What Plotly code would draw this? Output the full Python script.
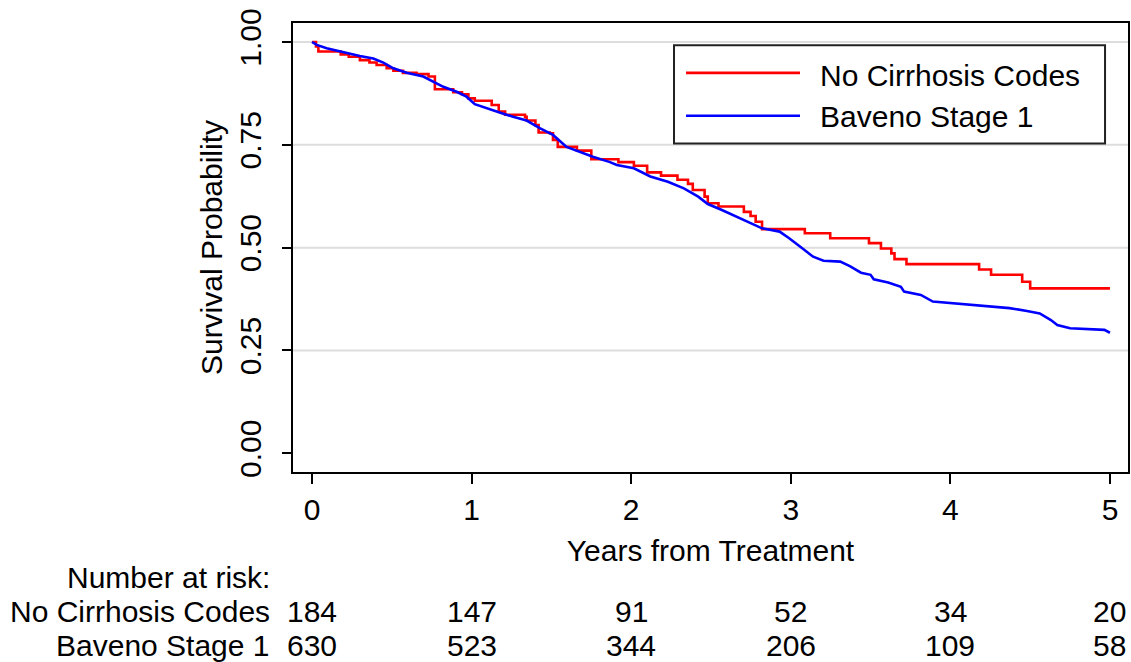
import plotly.graph_objects as go

# ---- data ----
red_name = "No Cirrhosis Codes"
blue_name = "Baveno Stage 1"

red_t = [0, 0.025, 0.04, 0.18, 0.23, 0.30, 0.36, 0.405, 0.468, 0.51, 0.57, 0.655, 0.73, 0.77, 0.885,
         0.94, 0.98, 1.02, 1.126, 1.17, 1.21, 1.335, 1.345, 1.40, 1.42, 1.49, 1.51, 1.54, 1.66, 1.75,
         1.92, 2.017, 2.10, 2.187, 2.29, 2.356, 2.386, 2.46, 2.48, 2.547, 2.706, 2.748, 2.78, 2.82, 3.088,
         3.247, 3.49, 3.565, 3.63, 3.65, 3.725, 4.18, 4.255, 4.45, 4.50, 5.0]
red_s = [1.0, 0.989, 0.977, 0.970, 0.964, 0.956, 0.950, 0.944, 0.936, 0.930, 0.925, 0.922, 0.916, 0.885, 0.878,
         0.873, 0.863, 0.857, 0.847, 0.831, 0.823, 0.818, 0.809, 0.798, 0.780, 0.778, 0.762, 0.745, 0.736, 0.715,
         0.708, 0.699, 0.683, 0.675, 0.665, 0.655, 0.640, 0.624, 0.608, 0.600, 0.587, 0.577, 0.563, 0.545, 0.535,
         0.523, 0.511, 0.498, 0.486, 0.472, 0.460, 0.447, 0.434, 0.417, 0.401, 0.401]

blue_t = [0, 0.03, 0.092, 0.154, 0.217, 0.30, 0.384, 0.447, 0.51, 0.593, 0.697, 0.76, 0.823, 0.906, 0.968,
          1.02, 1.09, 1.18, 1.26, 1.345, 1.43, 1.51, 1.595, 1.68, 1.76, 1.867, 1.91, 2.017, 2.12, 2.23,
          2.33, 2.42, 2.48, 2.565, 2.65, 2.735, 2.82, 2.93, 2.99, 3.08, 3.14, 3.205, 3.31, 3.37, 3.44,
          3.50, 3.52, 3.61, 3.69, 3.71, 3.815, 3.89, 4.01, 4.18, 4.37, 4.48, 4.56, 4.63, 4.67, 4.75,
          4.965, 5.0]
blue_s = [1.0, 0.993, 0.985, 0.979, 0.973, 0.966, 0.960, 0.950, 0.936, 0.925, 0.916, 0.904, 0.891, 0.879, 0.867,
          0.849, 0.839, 0.828, 0.818, 0.809, 0.790, 0.774, 0.745, 0.733, 0.721, 0.708, 0.701, 0.693, 0.673, 0.660,
          0.644, 0.624, 0.606, 0.592, 0.577, 0.563, 0.547, 0.539, 0.523, 0.496, 0.478, 0.468, 0.466, 0.455, 0.439,
          0.434, 0.423, 0.415, 0.405, 0.393, 0.385, 0.369, 0.365, 0.358, 0.353, 0.346, 0.340, 0.324, 0.312, 0.304,
          0.300, 0.293]

x_ticks = [0, 1, 2, 3, 4, 5]
y_ticks = [0.0, 0.25, 0.5, 0.75, 1.0]
y_tick_labels = ["0.00", "0.25", "0.50", "0.75", "1.00"]
grid_vals = [0.25, 0.5, 0.75, 1.0]

risk_times = [0, 1, 2, 3, 4, 5]
risk_red = [184, 147, 91, 52, 34, 20]
risk_blue = [630, 523, 344, 206, 109, 58]

FONT = "Liberation Sans, Arial, sans-serif"
FS = 30

fig = go.Figure()
fig.add_trace(go.Scatter(x=red_t, y=red_s, mode="lines", line_shape="hv",
                         line=dict(color="#ff0000", width=2.6), name=red_name, showlegend=False))
fig.add_trace(go.Scatter(x=blue_t, y=blue_s, mode="lines",
                         line=dict(color="#0000ff", width=2.6), name=blue_name, showlegend=False))

shapes = []
for g in grid_vals:
    shapes.append(dict(type="line", xref="paper", x0=0, x1=1, yref="y", y0=g, y1=g,
                       line=dict(color="#dddddd", width=2), layer="below"))

# legend box (drawn manually to match long legend keys)
shapes.append(dict(type="rect", xref="paper", yref="paper", x0=0.4563, x1=0.9725, y0=0.7317, y1=0.9503,
                   line=dict(color="#222222", width=2), fillcolor="white", layer="above"))
shapes.append(dict(type="line", xref="paper", yref="paper", x0=0.4707, x1=0.6072, y0=0.889, y1=0.889,
                   line=dict(color="#ff0000", width=2.6)))
shapes.append(dict(type="line", xref="paper", yref="paper", x0=0.4707, x1=0.6072, y0=0.7935, y1=0.7935,
                   line=dict(color="#0000ff", width=2.6)))

ann = []
ann.append(dict(xref="paper", yref="paper", x=0.629, y=0.884, text=red_name, showarrow=False,
                xanchor="left", yanchor="middle", font=dict(family=FONT, size=FS, color="black")))
ann.append(dict(xref="paper", yref="paper", x=0.629, y=0.791, text=blue_name, showarrow=False,
                xanchor="left", yanchor="middle", font=dict(family=FONT, size=FS, color="black")))

# number at risk table
lab_x = -0.0251  # paper coordinate of right edge of row labels
ann.append(dict(xref="paper", yref="paper", x=lab_x, y=-0.236, text="Number at risk:", showarrow=False,
                xanchor="right", yanchor="middle", font=dict(family=FONT, size=FS, color="black")))
ann.append(dict(xref="paper", yref="paper", x=lab_x, y=-0.3096, text=red_name, showarrow=False,
                xanchor="right", yanchor="middle", font=dict(family=FONT, size=FS, color="black")))
ann.append(dict(xref="paper", yref="paper", x=lab_x, y=-0.3875, text=blue_name, showarrow=False,
                xanchor="right", yanchor="middle", font=dict(family=FONT, size=FS, color="black")))
for t, a, b in zip(risk_times, risk_red, risk_blue):
    ann.append(dict(xref="x", yref="paper", x=t, y=-0.3096, text=str(a), showarrow=False,
                    xanchor="center", yanchor="middle", font=dict(family=FONT, size=FS, color="black")))
    ann.append(dict(xref="x", yref="paper", x=t, y=-0.3875, text=str(b), showarrow=False,
                    xanchor="center", yanchor="middle", font=dict(family=FONT, size=FS, color="black")))

fig.update_layout(
    width=1131, height=662,
    margin=dict(l=293, r=3, t=23, b=190, autoexpand=False),
    paper_bgcolor="white", plot_bgcolor="white",
    font=dict(family=FONT, size=FS, color="black"),
    shapes=shapes, annotations=ann,
    xaxis=dict(range=[-0.119, 5.113], tickvals=x_ticks, ticks="outside", ticklen=10, tickwidth=1.5,
               tickcolor="black", showgrid=False, zeroline=False, showline=True, linecolor="black",
               linewidth=2, mirror=True, tickfont=dict(family=FONT, size=FS),
               title=dict(text="Years from Treatment", font=dict(family=FONT, size=FS), standoff=15)),
    yaxis=dict(range=[-0.0455, 1.0462], tickvals=y_ticks, ticktext=y_tick_labels, tickangle=-90,
               ticks="outside", ticklen=9, tickwidth=1.5, tickcolor="black", showgrid=False,
               zeroline=False, showline=True, linecolor="black", linewidth=2, mirror=True,
               tickfont=dict(family=FONT, size=FS), ticklabelstandoff=9,
               title=dict(text="Survival Probability", font=dict(family=FONT, size=FS), standoff=3)),
)

fig.write_html("out.html")
